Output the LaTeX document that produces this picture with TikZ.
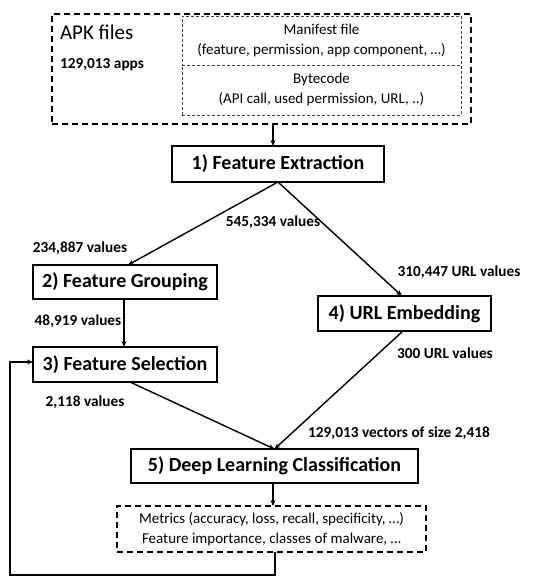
\documentclass[tikz,border=0pt]{standalone}
\usepackage{fontspec}
\setmainfont{Carlito}
\usetikzlibrary{arrows.meta}
\begin{document}
\begin{tikzpicture}[x=1pt,y=-1pt,
  every node/.style={inner sep=0pt, outer sep=0pt},
  stepbox/.style={draw, line width=2.2pt, font=\fontsize{20}{22}\selectfont\bfseries, align=center},
  outerdash/.style={draw, line width=2.2pt, dash pattern=on 6pt off 4pt},
  innerdash/.style={draw, line width=0.8pt, dash pattern=on 3pt off 2pt, draw=black!75, font=\fontsize{15}{20}\selectfont, align=center},
  lbl/.style={font=\fontsize{15.3}{17}\selectfont\bfseries},
  conn/.style={line width=1.4pt, -{Stealth[length=6pt,width=5pt]}},
]
\useasboundingbox (0,0) rectangle (553,578);
% APK outer box
\node[outerdash, minimum width=419pt, minimum height=110pt] (apk) at (261.5,69) {};
\node[anchor=west, font=\fontsize{21}{24}\selectfont] (apktitle) at (60,32) {APK files};
\node[anchor=west, lbl] (apps) at (60,65) {129,013 apps};
\node[innerdash, minimum width=279pt, minimum height=49pt] (manifest) at (321.5,40.5) {Manifest file\\(feature, permission, app component, …)};
\node[innerdash, minimum width=279pt, minimum height=50pt] (bytecode) at (321.5,90) {Bytecode\\(API call, used permission, URL, ..)};
% steps
\node[stepbox, minimum width=212pt, minimum height=36pt] (fe) at (278,164) {1) Feature Extraction};
\node[stepbox, minimum width=184pt, minimum height=34pt] (fg) at (125,282) {2) Feature Grouping};
\node[stepbox, minimum width=184pt, minimum height=35pt] (fs) at (125,364.5) {3) Feature Selection};
\node[stepbox, minimum width=173pt, minimum height=35pt] (url) at (404.5,313.5) {4) URL Embedding};
\node[stepbox, minimum width=287pt, minimum height=34pt] (dl) at (274.5,466) {5) Deep Learning Classification};
\node[draw, line width=2.2pt, dash pattern=on 6pt off 4pt, minimum width=309pt, minimum height=46pt, align=center, font=\fontsize{15}{20}\selectfont] (met) at (271.5,529) {Metrics (accuracy, loss, recall, specificity, …)\\Feature importance, classes of malware, …};
% labels
\node[lbl] (l1) at (273,222) {545,334 values};
\node[lbl] (l2) at (80,248) {234,887 values};
\node[lbl] (l3) at (459,272) {310,447 URL values};
\node[lbl] (l4) at (78,321) {48,919 values};
\node[lbl] (l5) at (445,353) {300 URL values};
\node[lbl] (l6) at (85,402) {2,118 values};
\node[lbl] (l7) at (399,433) {129,013 vectors of size 2,418};
% coordinates
\coordinate (feTop) at ([xshift=-5pt]fe.north);
\coordinate (fgTop) at ([xshift=3pt]fg.north);
\coordinate (urlTop) at ([xshift=-2.5pt]url.north);
\coordinate (fgBot) at ([xshift=-1pt]fg.south);
\coordinate (fsBot) at ([xshift=5pt]fs.south);
\coordinate (urlBot) at ([xshift=-1.5pt]url.south);
\coordinate (dlTop) at ([xshift=0pt]dl.north);
\coordinate (dlBot) at ([xshift=-1.5pt]dl.south);
\coordinate (metBot) at ([xshift=3.5pt]met.south);
\coordinate (fsIn) at ([yshift=2.5pt]fs.west);
\coordinate (loopBL) at (10,575);
% connectors
\draw[conn] (apk.south -| feTop) -- (feTop);
\draw[conn] (fe.south) -- (fgTop);
\draw[conn] (fe.south) -- (urlTop);
\draw[conn] (fgBot) -- (fgBot |- fs.north);
\draw[conn] (fsBot) -- (dlTop);
\draw[conn] (urlBot) -- (dlTop);
\draw[conn] (dlBot) -- (dlBot |- met.north);
\draw[conn] (metBot) -- (metBot |- loopBL) -- (loopBL) -- (loopBL |- fsIn) -- (fsIn);
\end{tikzpicture}
\end{document}
